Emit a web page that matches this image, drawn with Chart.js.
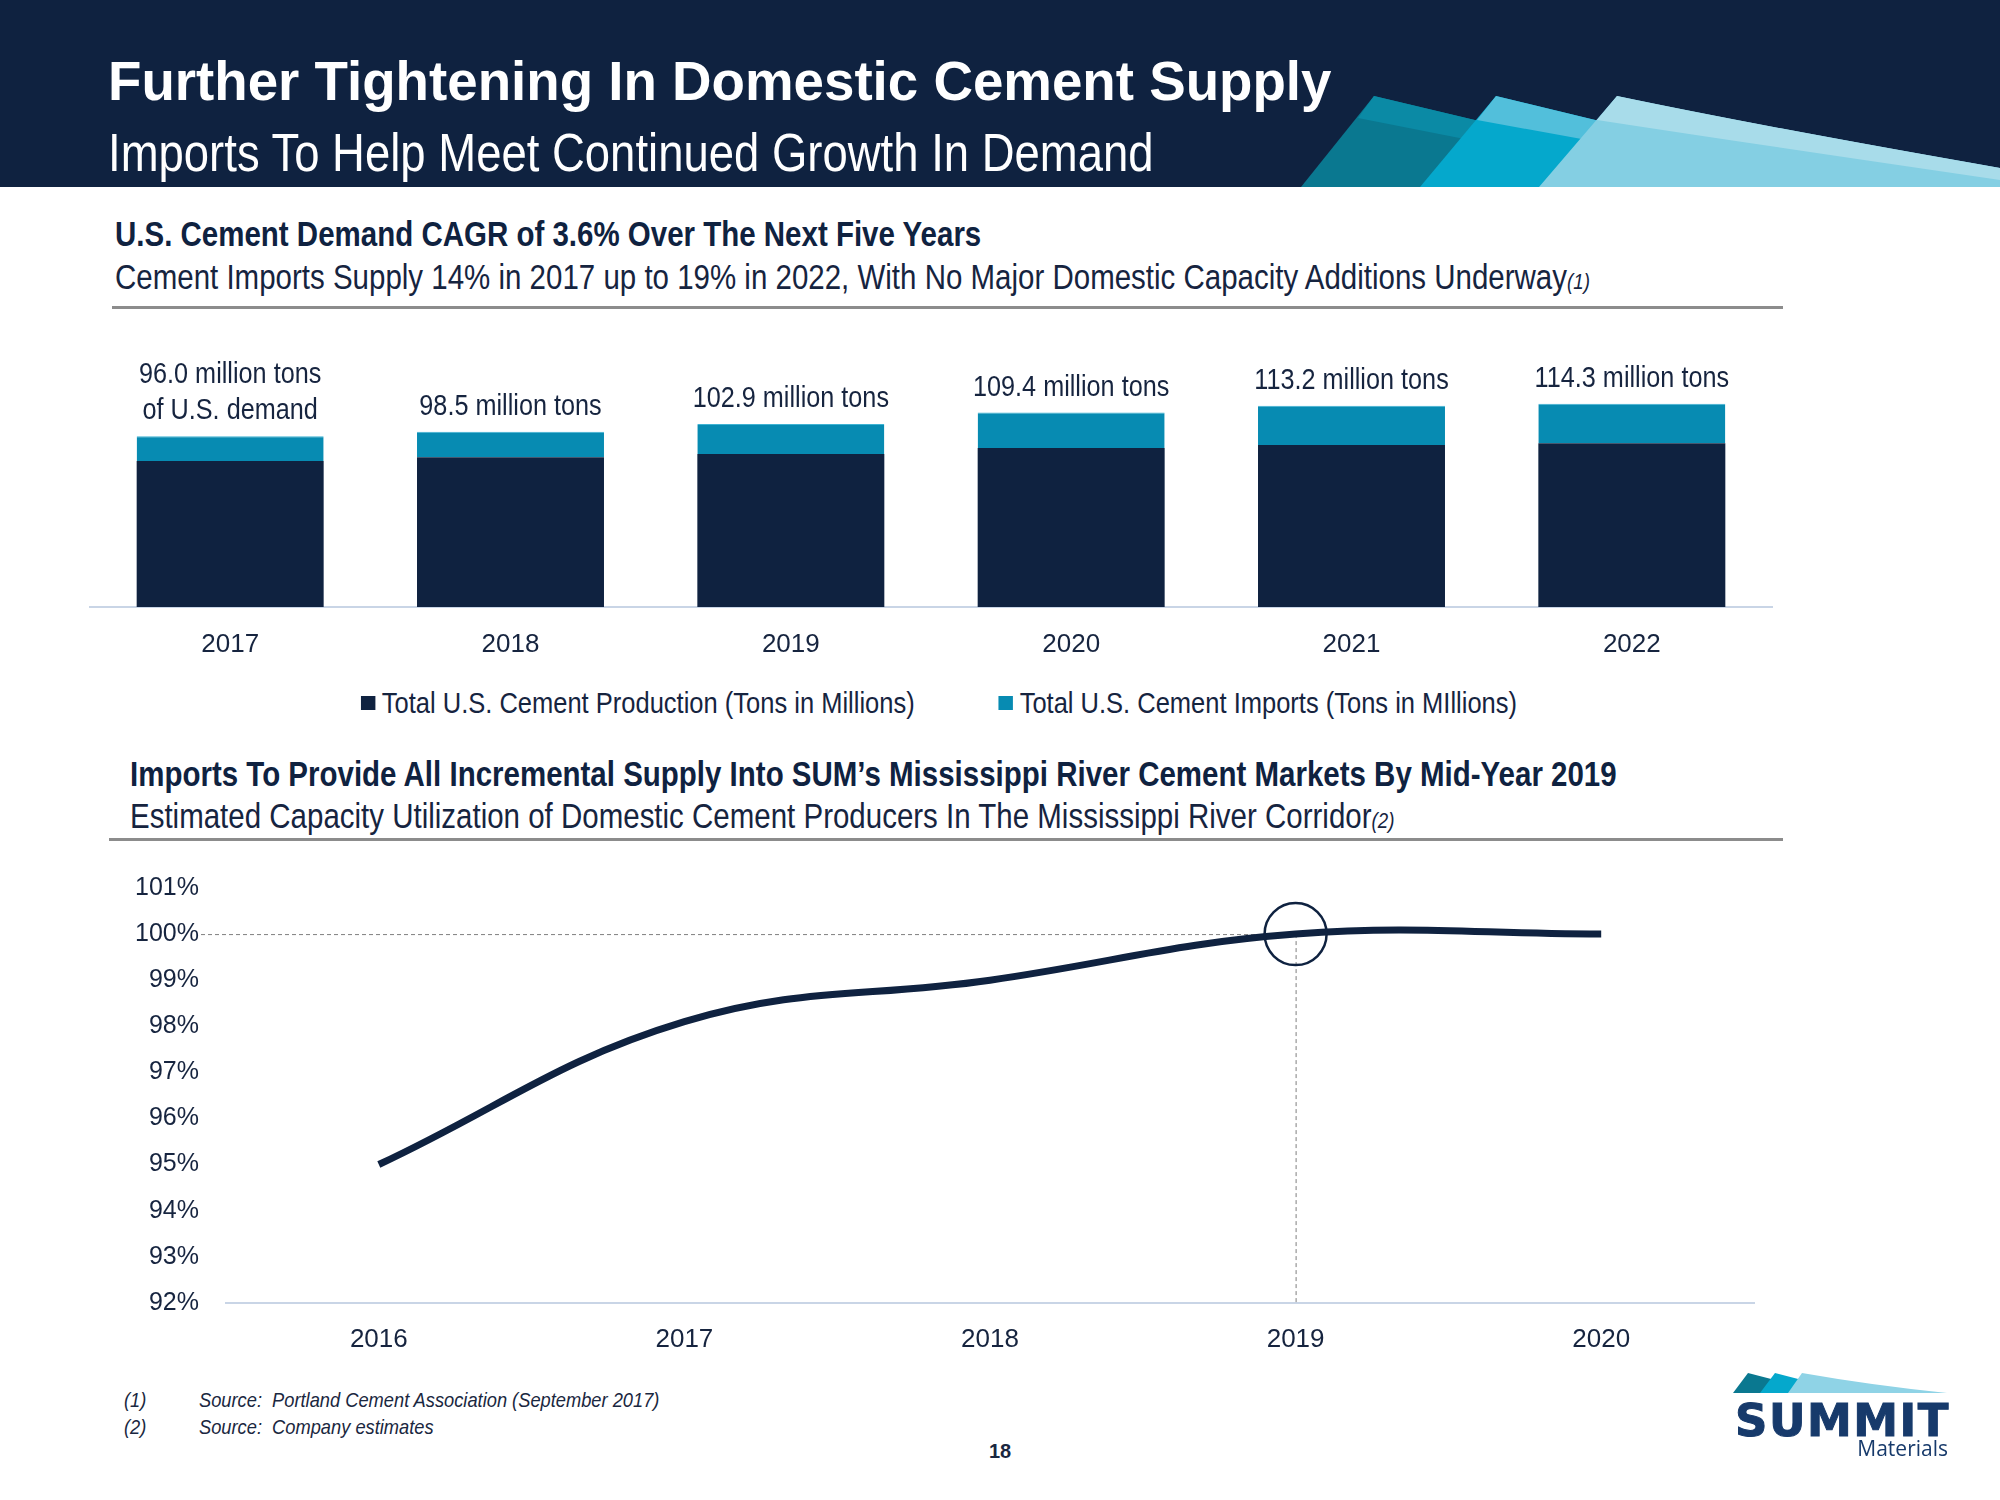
<!DOCTYPE html>
<html>
<head>
<meta charset="utf-8">
<script src="https://cdn.jsdelivr.net/npm/chart.js@4.4.0/dist/chart.umd.min.js"></script>
<style>
  html, body { margin: 0; padding: 0; background: #fff; }
  #page { position: relative; width: 2000px; height: 1500px; overflow: hidden;
          font-family: 'Liberation Sans', Arial, sans-serif; color: #16243f; }
  .abs { position: absolute; white-space: nowrap; line-height: 1; }
  .cond { transform: scaleX(0.85); transform-origin: 0 0; }
  #header { position: absolute; left: 0; top: 0; width: 2000px; height: 187px; background: #0f2240; }
  #title { left: 108px; top: 54px; font-weight: bold; font-size: 54.7px; color: #fff; }
  #subtitle { left: 108px; top: 126px; font-size: 53.5px; color: #fff; }
  .heading { font-weight: bold; color: #0f2240; font-size: 34.7px; }
  .sub { color: #16243f; font-size: 34.7px; }
  .note { font-style: italic; font-size: 22px; }
  .rule { position: absolute; height: 3px; background: #8c8c8c; }
  canvas { position: absolute; left: 0; }
  #demandLegend { position: absolute; top: 687px; left: 939px; transform: translateX(-50%) scaleX(0.85);
                  display: flex; gap: 99px; font-size: 30px; line-height: 32px; white-space: nowrap; color: #16243f; }
  #demandLegend .item { display: flex; align-items: center; }
  #demandLegend .box { width: 16.5px; height: 14px; margin-right: 8px; }
  .foot { font-style: italic; font-size: 21px; color: #1a2740; transform: scaleX(0.87); transform-origin: 0 0; }
</style>
</head>
<body>
<div id="page">
  <div id="header"></div>
  <svg class="abs" style="left:0;top:0" width="2000" height="188" viewBox="0 0 2000 188">
    <path d="M1301,187 L1374,96 L1500,126 L1500,187 Z" fill="#0a7890"/>
    <path d="M1374,96 L1500,126 L1500,146 L1358,118 Z" fill="#0b8aa5"/>
    <path d="M1420,187 L1496,96 L1620,126 L1620,187 Z" fill="#05a8cc"/>
    <path d="M1496,96 L1620,126 L1620,146 L1477,120 Z" fill="#52bfdb"/>
    <path d="M1539,187 L1617,96 Q1760,126 2000,168 L2000,187 Z" fill="#84cfe3"/>
    <path d="M1617,96 Q1760,126 2000,168 L2000,180 Q1780,148 1597,120 Z" fill="#a8dcea"/>
  </svg>
  <div class="abs" id="title">Further Tightening In Domestic Cement Supply</div>
  <div class="abs cond" id="subtitle">Imports To Help Meet Continued Growth In Demand</div>

  <div class="abs cond heading" style="left:115px;top:217px;">U.S. Cement Demand CAGR of 3.6% Over The Next Five Years</div>
  <div class="abs cond sub" style="left:115px;top:260px;">Cement Imports Supply 14% in 2017 up to 19% in 2022, With No Major Domestic Capacity Additions Underway<span class="note">(1)</span></div>
  <div class="rule" style="left:112px;top:306px;width:1671px;"></div>

  <canvas id="demandChart" width="2000" height="353" style="top:330px;width:2000px;height:353px;"></canvas>
  <div id="demandLegend"></div>

  <div class="abs cond heading" style="left:130px;top:757px;">Imports To Provide All Incremental Supply Into SUM’s Mississippi River Cement Markets By Mid-Year 2019</div>
  <div class="abs cond sub" style="left:130px;top:799px;">Estimated Capacity Utilization of Domestic Cement Producers In The Mississippi River Corridor<span class="note">(2)</span></div>
  <div class="rule" style="left:109px;top:838px;width:1674px;"></div>

  <canvas id="utilChart" width="2000" height="530" style="top:846px;width:2000px;height:530px;"></canvas>

  <div class="abs foot" style="left:124px;top:1389px;">(1)</div>
  <div class="abs foot" style="left:199px;top:1389px;">Source:&nbsp; Portland Cement Association (September 2017)</div>
  <div class="abs foot" style="left:124px;top:1416px;">(2)</div>
  <div class="abs foot" style="left:199px;top:1416px;">Source:&nbsp; Company estimates</div>
  <div class="abs" style="left:1000px;top:1441px;transform:translateX(-50%);font-weight:bold;font-size:20px;color:#1a2740;">18</div>

  <svg class="abs" style="left:1720px;top:1365px" width="240" height="35" viewBox="1720 1365 240 35">
    <path d="M1733,1393 L1748,1373 L1775,1380 L1775,1393 Z" fill="#0a7890"/>
    <path d="M1760,1393 L1775,1373 L1802,1380 L1802,1393 Z" fill="#05a8cc"/>
    <path d="M1788,1393 L1802,1373 Q1870,1385 1947,1393 Z" fill="#8fd3e6"/>
  </svg>
  <div class="abs" style="right:50px;top:1398px;font-family:'DejaVu Sans',sans-serif;font-weight:bold;font-size:45px;letter-spacing:1.5px;color:#173a6b;-webkit-text-stroke:1px #173a6b;">SUMMIT</div>
  <div class="abs" style="right:52px;top:1438px;font-family:'Open Sans','DejaVu Sans',sans-serif;font-size:21px;color:#173a6b;">Materials</div>
</div>

<script>
// top chart: US cement demand (million tons)
const years = ['2017', '2018', '2019', '2020', '2021', '2022'];
const production = [82.1, 84.2, 86.0, 89.4, 91.1, 92.1];
const imports = [13.9, 14.3, 16.9, 20.0, 22.1, 22.2];
const demandLabels = [
  ['96.0 million tons', 'of U.S. demand'],
  ['98.5 million tons'],
  ['102.9 million tons'],
  ['109.4 million tons'],
  ['113.2 million tons'],
  ['114.3 million tons']
];

// bottom chart: capacity utilization, Mississippi River corridor
const utilYears = ['2016', '2017', '2018', '2019', '2020'];
const utilization = [95.0, 98.1, 99.0, 100.0, 100.0];
const highlightYear = '2019';
const fullCapacity = 100;

const navy = '#0f2240';
const teal = '#078bb2';
const textColor = '#16243f';
const fontFamily = "'Liberation Sans', Arial, sans-serif";

Chart.defaults.font.family = fontFamily;
Chart.defaults.color = textColor;

// value labels above each stacked bar (drawn a bit condensed like the slide font)
const demandLabelPlugin = {
  id: 'demandLabels',
  afterDatasetsDraw(chart) {
    const ctx = chart.ctx;
    const meta = chart.getDatasetMeta(1);
    ctx.save();
    ctx.font = '29.7px ' + fontFamily;
    ctx.fillStyle = textColor;
    ctx.textAlign = 'center';
    ctx.textBaseline = 'middle';
    meta.data.forEach((bar, i) => {
      const lines = demandLabels[i];
      lines.forEach((line, j) => {
        ctx.save();
        ctx.translate(bar.x, bar.y - 25 - (lines.length - 1 - j) * 36);
        ctx.scale(0.85, 1);
        ctx.fillText(line, 0, 0);
        ctx.restore();
      });
    });
    ctx.restore();
  }
};

const demandChart = new Chart(document.getElementById('demandChart'), {
  type: 'bar',
  data: {
    labels: years,
    datasets: [{
      label: 'Total U.S. Cement Production (Tons in Millions)',
      data: production,
      backgroundColor: navy,
      barPercentage: 0.667,
      categoryPercentage: 1
    }, {
      label: 'Total U.S. Cement Imports (Tons in MIllions)',
      data: imports,
      backgroundColor: teal,
      borderColor: '#3fb3d3',
      borderWidth: { top: 1, left: 0, right: 0, bottom: 0 },
      borderSkipped: 'start',
      barPercentage: 0.667,
      categoryPercentage: 1
    }]
  },
  options: {
    responsive: false,
    animation: false,
    devicePixelRatio: 1,
    layout: { padding: { left: 90, right: 228, top: 28, bottom: 0 } },
    plugins: { legend: { display: false }, tooltip: { enabled: false } },
    scales: {
      x: {
        stacked: true,
        grid: { display: false, drawTicks: false },
        border: { display: true, color: '#c9d5e6', width: 2 },
        ticks: { font: { size: 26 }, padding: 22.4, color: textColor }
      },
      y: {
        stacked: true,
        display: false,
        min: 0,
        max: 140
      }
    }
  },
  plugins: [demandLabelPlugin]
});

// html legend from the chart's datasets
const legendEl = document.getElementById('demandLegend');
demandChart.data.datasets.forEach(ds => {
  const item = document.createElement('div');
  item.className = 'item';
  const box = document.createElement('span');
  box.className = 'box';
  box.style.background = ds.backgroundColor;
  const txt = document.createElement('span');
  txt.textContent = ds.label;
  item.appendChild(box);
  item.appendChild(txt);
  legendEl.appendChild(item);
});

const highlightPlugin = {
  id: 'highlight',
  beforeDatasetsDraw(chart) {
    const { ctx, chartArea, scales: { x, y } } = chart;
    const cx = x.getPixelForValue(utilYears.indexOf(highlightYear));
    const cy = y.getPixelForValue(fullCapacity);
    ctx.save();
    ctx.strokeStyle = '#7f7f7f';
    ctx.lineWidth = 1;
    ctx.setLineDash([4, 3]);
    ctx.beginPath();
    ctx.moveTo(chartArea.left - 25, cy + 0.5);
    ctx.lineTo(cx + 12, cy + 0.5);
    ctx.moveTo(cx + 0.5, cy);
    ctx.lineTo(cx + 0.5, chartArea.bottom);
    ctx.stroke();
    ctx.restore();
  },
  afterDatasetsDraw(chart) {
    const { ctx, scales: { x, y } } = chart;
    const cx = x.getPixelForValue(utilYears.indexOf(highlightYear));
    const cy = y.getPixelForValue(fullCapacity);
    ctx.save();
    ctx.strokeStyle = navy;
    ctx.lineWidth = 2.5;
    ctx.beginPath();
    ctx.arc(cx, cy, 31, 0, Math.PI * 2);
    ctx.stroke();
    ctx.restore();
  }
};

new Chart(document.getElementById('utilChart'), {
  type: 'line',
  data: {
    labels: utilYears,
    datasets: [{
      label: 'Capacity Utilization',
      data: utilization,
      borderColor: navy,
      borderWidth: 7,
      tension: 0.4,
      pointRadius: 0,
      fill: false
    }]
  },
  options: {
    responsive: false,
    animation: false,
    devicePixelRatio: 1,
    layout: { padding: { left: 106, right: 246, top: 0, bottom: 0 } },
    plugins: { legend: { display: false }, tooltip: { enabled: false } },
    scales: {
      x: {
        offset: true,
        grid: { display: false, drawTicks: false },
        border: { display: true, color: '#c9d5e6', width: 2 },
        ticks: { font: { size: 26 }, padding: 21, color: textColor }
      },
      y: {
        min: 92,
        max: 101,
        grid: { display: false, drawTicks: false },
        border: { display: false },
        afterFit(axis) { axis.width = 120; },
        ticks: {
          stepSize: 1,
          padding: 27,
          font: { size: 25 },
          color: textColor,
          callback: v => v + '%'
        }
      }
    }
  },
  plugins: [highlightPlugin]
});
</script>
</body>
</html>
